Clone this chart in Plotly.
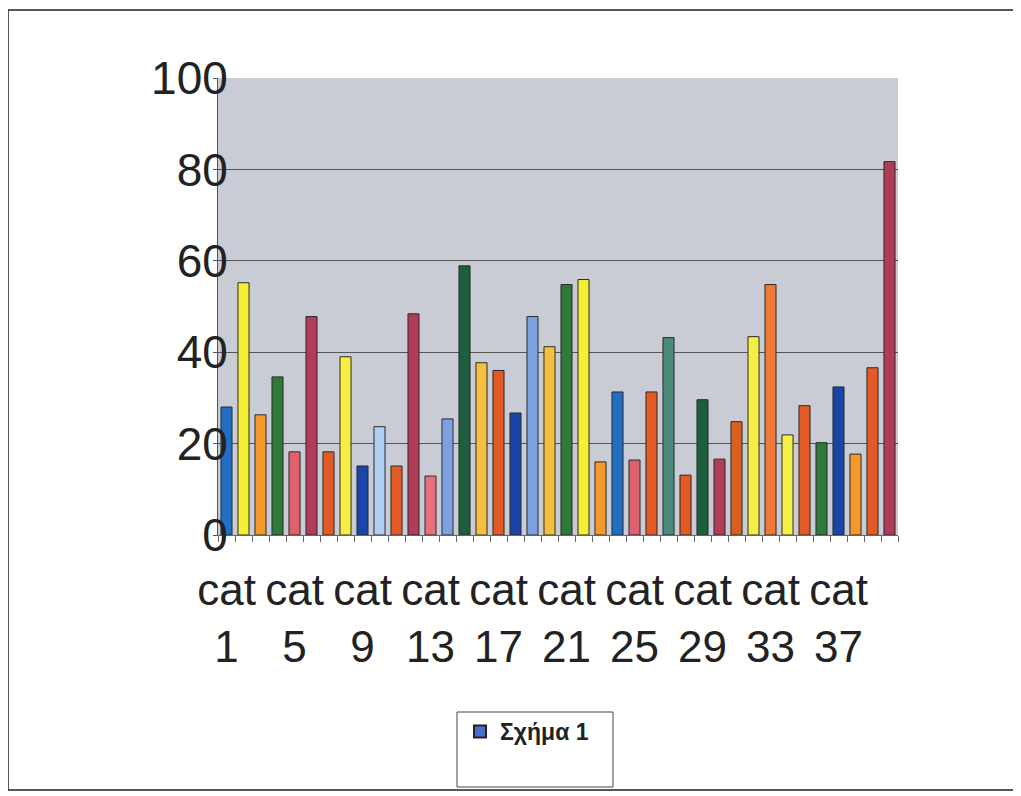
import plotly.graph_objects as go

categories = [f"cat {i}" for i in range(1, 41)]
values = [28.0, 55.2, 26.3, 34.6, 18.2, 47.8, 18.2, 39.0, 15.1, 23.7,
          15.1, 48.4, 12.9, 25.4, 58.9, 37.7, 36.0, 26.7, 47.8, 41.2,
          54.8, 55.9, 16.0, 31.3, 16.4, 31.3, 43.2, 13.1, 29.6, 16.6,
          24.8, 43.4, 54.8, 21.9, 28.3, 20.2, 32.4, 17.7, 36.6, 81.7]
colors = ["#1f6fc4", "#f5ef35", "#f39a2a", "#2e7a3a", "#e0606e", "#b03c58",
          "#e35a25", "#f5ef45", "#1a45a8", "#b0cff2", "#e35a25", "#b03c58",
          "#e8707c", "#7ca0e0", "#1d5e3e", "#f5c040", "#e35a25", "#1a45a8",
          "#7ca0e0", "#f5c040", "#2e7a3a", "#f5ef35", "#f39a2a", "#1f6fc4",
          "#e0606e", "#e35a25", "#4a8a78", "#e35a25", "#1d5e3e", "#b03c58",
          "#d9601e", "#f5ef45", "#ee7a35", "#f5ef45", "#e35a25", "#2e7a3a",
          "#1a45a8", "#f39a2a", "#e35a25", "#b03c58"]
tick_positions = [1, 5, 9, 13, 17, 21, 25, 29, 33, 37]
tick_labels = [f"cat<br>{i}" for i in tick_positions]
legend_name = "<b>Σχήμα 1</b>"

xs = list(range(1, 41))

fig = go.Figure()
fig.add_trace(go.Bar(x=xs, y=values, marker=dict(color=colors, line=dict(color="#2a2a2a", width=1)),
                     width=0.65, showlegend=False, hovertext=categories))
fig.add_trace(go.Bar(x=[None], y=[None], name=legend_name,
                     marker=dict(color="#4a6fd0", line=dict(color="#222", width=1)), showlegend=True))

# page body has an 8px margin, so the figure origin sits at (8, 8) on the page
OFF = 8
W, H = 1021 - OFF, 796 - OFF
l, t = 218 - OFF, 78 - OFF
r = W - (898 - OFF)
b = H - (535 - OFF)
pw, ph = W - l - r, H - t - b

def px_x(x):
    return (x - OFF - l) / pw

def px_y(y):
    return (535 - y) / ph

fig.add_shape(type="rect", xref="paper", yref="paper",
              x0=px_x(8), x1=px_x(1015), y0=px_y(790), y1=px_y(10),
              line=dict(color="#222", width=1.5), fillcolor="rgba(0,0,0,0)", layer="below")
fig.add_shape(type="rect", xref="paper", yref="paper",
              x0=px_x(457), x1=px_x(613), y0=px_y(787), y1=px_y(712),
              line=dict(color="#444", width=1), fillcolor="white", layer="below")

fig.update_layout(
    width=W, height=H,
    margin=dict(l=l, r=r, t=t, b=b),
    paper_bgcolor="white",
    plot_bgcolor="#c9ccd5",
    font=dict(family="Liberation Sans, Arial, sans-serif", color="#222"),
    bargap=0.35,
    showlegend=True,
    legend=dict(x=px_x(460), y=px_y(710), xanchor="left", yanchor="top",
                bgcolor="rgba(0,0,0,0)", borderwidth=0,
                font=dict(size=23, family="Liberation Sans, Arial, sans-serif", color="#222"),
                itemsizing="constant"),
    xaxis=dict(range=[0.5, 40.5], tickmode="array", tickvals=tick_positions, ticktext=tick_labels,
               tickfont=dict(size=44), ticks="", showgrid=False, showline=True, linecolor="#666",
               ticklabelstandoff=16,
               minor=dict(ticks="outside", tick0=0.5, dtick=1, ticklen=6, tickcolor="#666", showgrid=False)),
    yaxis=dict(range=[0, 100], dtick=20, tickfont=dict(size=46), showgrid=True, gridcolor="#555",
               gridwidth=1, showline=True, linecolor="#555", ticks="outside", ticklen=4,
               tickcolor="#555", zeroline=False, ticklabelstandoff=-24),
)

fig.write_html("out.html")
